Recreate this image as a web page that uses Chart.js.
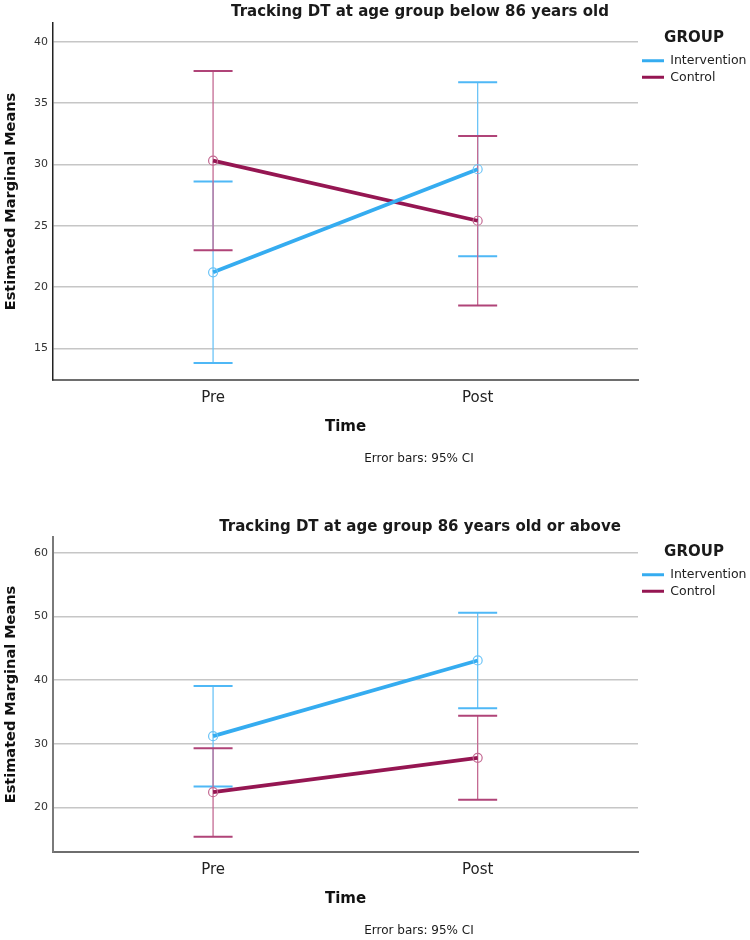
<!DOCTYPE html>
<html>
<head>
<meta charset="utf-8">
<script src="https://cdn.jsdelivr.net/npm/chart.js@4.4.1/dist/chart.umd.min.js"></script>
<style>
  html, body { margin: 0; padding: 0; background: #fff; }
  canvas { display: block; }
</style>
</head>
<body>
<canvas id="young" width="750" height="470"></canvas>
<canvas id="old" width="750" height="470"></canvas>
<script>
// shared categories
const timeLabels = ["Pre", "Post"];
const groupNames = ["Intervention", "Control"];

// below 86 years old
const youngIntervention = [21.2, 29.6];
const youngInterventionLow = [13.8, 22.5];
const youngInterventionHigh = [28.6, 36.7];
const youngControl = [30.3, 25.4];
const youngControlLow = [23.0, 18.5];
const youngControlHigh = [37.6, 32.3];
const youngTicks = [15, 20, 25, 30, 35, 40];

// 86 years old or above
const oldIntervention = [31.2, 43.1];
const oldInterventionLow = [23.3, 35.6];
const oldInterventionHigh = [39.1, 50.6];
const oldControl = [22.4, 27.8];
const oldControlLow = [15.4, 21.2];
const oldControlHigh = [29.3, 34.4];
const oldTicks = [20, 30, 40, 50, 60];

const FONT = '"DejaVu Sans", "Noto Sans", sans-serif';
Chart.defaults.font.family = FONT;
Chart.defaults.color = "#222";

const BLUE = "#35acf0";
const BLUE_BAR = "#6cc4f7";
const BLUE_CAP = "#4fb8f6";
const RED = "#951652";
const RED_BAR = "#c46a93";
const RED_CAP = "#b04478";

// CI whiskers, drawn under the mean lines
const errorBars = {
  id: "errorBars",
  beforeDatasetsDraw(chart) {
    const { ctx, scales: { x, y } } = chart;
    ctx.save();
    chart.data.datasets.forEach((ds) => {
      ds.ciLow.forEach((lo, i) => {
        const px = x.getPixelForValue(i);
        const top = y.getPixelForValue(ds.ciHigh[i]);
        const bot = y.getPixelForValue(lo);
        ctx.strokeStyle = ds.barColor;
        ctx.lineWidth = 1.3;
        ctx.beginPath();
        ctx.moveTo(px, top);
        ctx.lineTo(px, bot);
        ctx.stroke();
        ctx.strokeStyle = ds.capColor;
        ctx.lineWidth = 2;
        ctx.beginPath();
        ctx.moveTo(px - 19.5, top);
        ctx.lineTo(px + 19.5, top);
        ctx.moveTo(px - 19.5, bot);
        ctx.lineTo(px + 19.5, bot);
        ctx.stroke();
      });
    });
    ctx.restore();
  },
};

// title above and footnote below, centred like the SPSS output
const captions = {
  id: "captions",
  afterDraw(chart, args, opts) {
    const ctx = chart.ctx;
    ctx.save();
    ctx.fillStyle = "#1a1a1a";
    ctx.textAlign = "center";
    ctx.textBaseline = "middle";
    ctx.font = "bold 15px " + FONT;
    ctx.fillText(opts.title, opts.titleX, opts.titleY);
    ctx.font = "12px " + FONT;
    ctx.fillText(opts.note, opts.noteX, opts.noteY);
    ctx.restore();
  },
};

function points(values) {
  return timeLabels.map((_, i) => ({ x: i, y: values[i] }));
}

function makeChart(id, o) {
  return new Chart(document.getElementById(id), {
    type: "line",
    data: {
      datasets: [
        {
          label: groupNames[0],
          data: points(o.intervention),
          ciLow: o.interventionLow,
          ciHigh: o.interventionHigh,
          barColor: BLUE_BAR,
          capColor: BLUE_CAP,
          borderColor: BLUE,
          backgroundColor: BLUE,
          borderWidth: 3.8,
          pointRadius: 4.5,
          pointBorderWidth: 1.2,
          pointBorderColor: BLUE_BAR,
          pointBackgroundColor: "rgba(255,255,255,0)",
        },
        {
          label: groupNames[1],
          data: points(o.control),
          ciLow: o.controlLow,
          ciHigh: o.controlHigh,
          barColor: RED_BAR,
          capColor: RED_CAP,
          borderColor: RED,
          backgroundColor: RED,
          borderWidth: 3.8,
          pointRadius: 4.5,
          pointBorderWidth: 1.2,
          pointBorderColor: RED_BAR,
          pointBackgroundColor: "rgba(255,255,255,0)",
        },
      ],
    },
    options: {
      responsive: false,
      animation: false,
      layout: { padding: { top: o.padTop, bottom: o.padBottom, left: 0, right: 0 } },
      scales: {
        x: {
          type: "linear",
          min: -0.605,
          max: 1.606,
          afterBuildTicks: (s) => { s.ticks = timeLabels.map((_, i) => ({ value: i })); },
          afterFit: (s) => { s.height = 60; },
          ticks: {
            callback: (v) => timeLabels[v],
            font: { size: 15 },
            color: "#222",
            padding: 1,
            maxRotation: 0,
          },
          grid: { display: false },
          border: { color: "#6e6e6e", width: 2 },
          title: {
            display: true,
            text: "Time",
            font: { size: 15, weight: "bold" },
            color: "#111",
            padding: { top: 0, bottom: 4 },
          },
        },
        y: {
          min: o.yMin,
          max: o.yMax,
          afterBuildTicks: (s) => { s.ticks = o.ticks.map((v) => ({ value: v })); },
          afterFit: (s) => { s.width = 53; },
          ticks: { font: { size: 11 }, color: "#333", padding: 5 },
          grid: { color: "#c6c6c6", lineWidth: 1.5, drawTicks: false },
          border: { color: o.yAxisColor, width: o.yAxisWidth },
          title: {
            display: true,
            text: "Estimated Marginal Means",
            font: { size: 14.5, weight: "bold" },
            color: "#111",
            padding: { top: 3, bottom: 0 },
          },
        },
      },
      plugins: {
        legend: {
          position: "right",
          align: "start",
          maxWidth: 112, // keeps the plot's right edge at x=638
          title: {
            display: true,
            text: "GROUP",
            font: { size: 15, weight: "bold" },
            color: "#1a1a1a",
            padding: { top: 7.5, bottom: 2 },
          },
          labels: {
            boxWidth: 22,
            boxHeight: 3,
            padding: 4,
            font: { size: 12.5 },
            color: "#222",
            generateLabels: (chart) =>
              Chart.defaults.plugins.legend.labels.generateLabels(chart).map((l) => ({ ...l, lineWidth: 0 })),
          },
        },
        tooltip: { enabled: false },
        captions: {
          title: o.title,
          titleX: 420,
          titleY: o.titleY,
          note: "Error bars: 95% CI",
          noteX: 419,
          noteY: o.noteY,
        },
      },
    },
    plugins: [errorBars, captions],
  });
}

makeChart("young", {
  title: "Tracking DT at age group below 86 years old",
  titleY: 12,
  noteY: 459,
  padTop: 23,
  padBottom: 30,
  yMin: 12.42,
  yMax: 41.52,
  ticks: youngTicks,
  yAxisColor: "#222",
  yAxisWidth: 1.5,
  intervention: youngIntervention,
  interventionLow: youngInterventionLow,
  interventionHigh: youngInterventionHigh,
  control: youngControl,
  controlLow: youngControlLow,
  controlHigh: youngControlHigh,
});

makeChart("old", {
  title: "Tracking DT at age group 86 years old or above",
  titleY: 57,
  noteY: 461,
  padTop: 67,
  padBottom: 28,
  yMin: 13.0,
  yMax: 62.5,
  ticks: oldTicks,
  yAxisColor: "#7a7a7a",
  yAxisWidth: 2,
  intervention: oldIntervention,
  interventionLow: oldInterventionLow,
  interventionHigh: oldInterventionHigh,
  control: oldControl,
  controlLow: oldControlLow,
  controlHigh: oldControlHigh,
});
</script>
</body>
</html>
